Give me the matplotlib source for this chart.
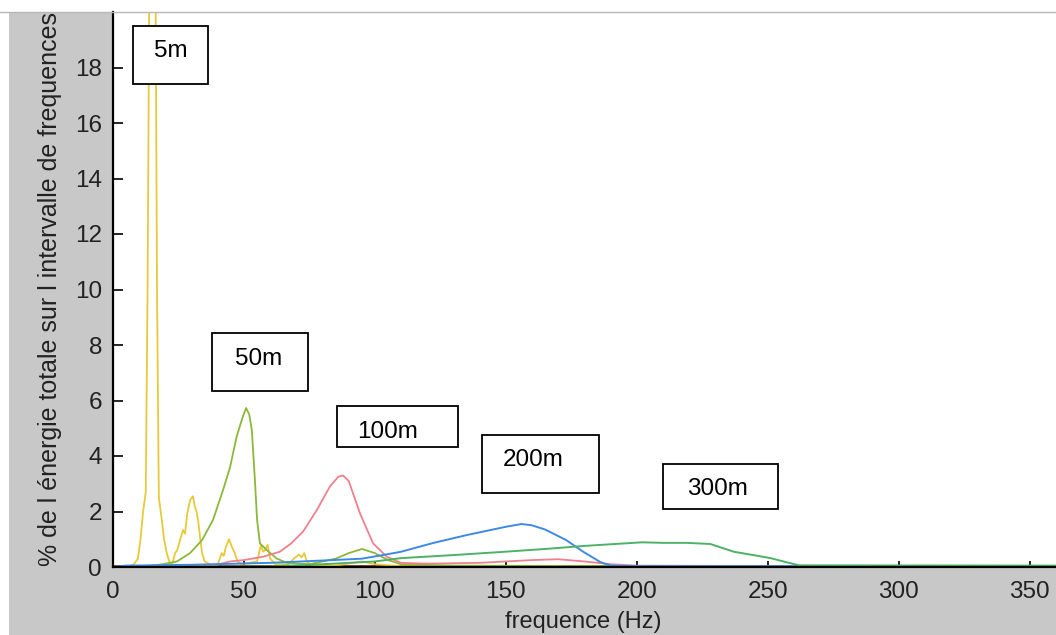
import numpy as np
import matplotlib
matplotlib.use("Agg")
import matplotlib.pyplot as plt
from matplotlib.patches import Rectangle
from matplotlib.lines import Line2D

plt.rcParams['font.family'] = ['Liberation Sans', 'DejaVu Sans']

# --- donnees (frequence en Hz, % energie) ---
f_5m = [0, 5, 8, 9.5, 10.5, 11.5, 12.5, 13.2, 13.8, 14.5, 15.5, 16.3, 16.8, 17.5, 18.5,
        19.5, 20.5, 21.5, 22.5, 23.7, 24.5, 25.6, 26.7, 27.5, 28.3, 29.4, 30.5, 31.2, 32,
        32.6, 33.2, 34, 35, 38, 40, 41.5, 42.3, 43, 44.3, 45.5, 46.5, 47.5, 49, 52, 55,
        56.5, 57.3, 58, 59, 60, 62, 65, 67, 69, 71, 72, 73, 74, 76, 85, 95, 100, 110, 150]
e_5m = [0, 0, 0.1, 0.3, 1.0, 2.0, 2.7, 10, 20, 24, 24, 20, 10, 2.5, 1.8,
        1.0, 0.5, 0.2, 0.05, 0.5, 0.6, 0.97, 1.33, 1.2, 1.9, 2.4, 2.55, 2.2, 1.95,
        1.6, 1.1, 0.5, 0.2, 0.05, 0.1, 0.5, 0.4, 0.7, 1.0, 0.7, 0.5, 0.2, 0.1, 0.15, 0.2,
        0.8, 0.55, 0.6, 0.8, 0.3, 0.1, 0.1, 0.1, 0.3, 0.45, 0.35, 0.5, 0.2, 0.05, 0.05, 0.2, 0.1, 0.03, 0.02]

f_50m = [0, 10, 19, 24.4, 29.4, 34, 38.2, 42, 44.7, 47.2, 49.5, 50.8, 52, 53, 54.2, 55,
         56.1, 58.8, 62.6, 66.4, 75, 85, 90, 95, 100, 105, 110, 130, 200, 360]
e_50m = [0, 0, 0.1, 0.2, 0.5, 0.97, 1.7, 2.77, 3.6, 4.7, 5.4, 5.73, 5.5, 4.94, 3.1, 1.7,
         0.85, 0.6, 0.3, 0.15, 0.1, 0.3, 0.5, 0.65, 0.5, 0.25, 0.1, 0.05, 0.03, 0.02]

f_100m = [0, 30, 38, 44.7, 50, 57.3, 63.7, 68, 72.5, 77.8, 82.8, 86, 87.8, 90, 94.3, 99.3,
          104.5, 110, 120, 140, 150, 160, 170, 180, 190, 200, 260, 360]
e_100m = [0, 0.02, 0.05, 0.2, 0.25, 0.37, 0.55, 0.85, 1.27, 2.05, 2.9, 3.25, 3.3, 3.1, 1.93, 0.85,
          0.37, 0.15, 0.12, 0.15, 0.2, 0.25, 0.28, 0.2, 0.1, 0.05, 0.03, 0.02]

f_200m = [0, 5, 30, 60, 84, 95, 103, 110, 122, 135, 145, 150, 156, 160, 165, 173, 179.5,
          186, 190, 200, 260, 360]
e_200m = [0, 0.05, 0.08, 0.15, 0.25, 0.3, 0.43, 0.55, 0.86, 1.15, 1.35, 1.45, 1.55, 1.5, 1.35, 0.97, 0.55,
          0.18, 0.05, 0.03, 0.03, 0.03]

f_300m = [0, 60, 80, 100, 110, 130, 148, 165, 180, 202, 210, 219, 228, 237, 245, 251, 258, 262, 360]
e_300m = [0, 0.02, 0.1, 0.2, 0.32, 0.43, 0.54, 0.65, 0.76, 0.89, 0.87, 0.87, 0.83, 0.55, 0.42, 0.32, 0.15, 0.06, 0.05]

# autres distances, quasi nulles
f_bas = [0, 360]
e_rouge = [0.02, 0.02]
e_marine = [0.01, 0.01]
e_vertfonce = [0.0, 0.0]

couleurs = {'5m': '#e8c93a', '50m': '#8bb83a', '100m': '#f0808c',
            '200m': '#3d8ae6', '300m': '#4db265'}

# etiquettes : texte, position du texte, cadre (x0, x1, y0, y1)
etiquettes = [
    ('5m', 22, 18.6, (7.6, 36.3, 17.4, 19.5)),
    ('50m', 55.5, 7.5, (37.8, 74.5, 6.35, 8.45)),
    ('100m', 105, 4.85, (85.5, 131.7, 4.32, 5.8)),
    ('200m', 160.4, 3.86, (140.9, 185.6, 2.67, 4.76)),
    ('300m', 230.6, 2.8, (210, 253.9, 2.09, 3.71)),
]

W, H = 1056, 635
fig = plt.figure(figsize=(W / 100, H / 100), dpi=100)
fig.patch.set_facecolor('white')
fig.add_artist(Rectangle((9 / W, 0), 1 - 9 / W, (H - 12) / H, transform=fig.transFigure,
                         facecolor='#c8c8c8', edgecolor='none', zorder=-10))
fig.add_artist(Line2D([0, 1], [(H - 12) / H] * 2, transform=fig.transFigure,
                      color='#b8b8b8', lw=1))

ax = fig.add_axes([113 / W, (H - 567) / H, (W - 113) / W, (567 - 12) / H])
ax.set_facecolor('white')

ax.plot(f_bas, e_rouge, color='#9b3030', lw=1.3)
ax.plot(f_bas, e_marine, color='#1f4e9c', lw=1.3)
ax.plot(f_bas, e_vertfonce, color='#1d5e2a', lw=1.6)
ax.plot(f_5m, e_5m, color=couleurs['5m'], lw=1.3)
ax.plot(f_50m, e_50m, color=couleurs['50m'], lw=1.3)
ax.plot(f_100m, e_100m, color=couleurs['100m'], lw=1.3)
ax.plot(f_200m, e_200m, color=couleurs['200m'], lw=1.4)
ax.plot(f_300m, e_300m, color=couleurs['300m'], lw=1.4)

for txt, tx, ty, (x0, x1, y0, y1) in etiquettes:
    ax.add_patch(Rectangle((x0, y0), x1 - x0, y1 - y0, facecolor='white',
                           edgecolor='black', lw=1.3, zorder=5))
    ax.text(tx, ty, txt, ha='center', va='center', fontsize=17.5, zorder=6)

ax.set_xlim(0, 360)
ax.set_ylim(0, 20)
ax.set_xticks(np.arange(0, 351, 50))
ax.set_yticks(np.arange(0, 19, 2))
ax.spines['top'].set_visible(False)
ax.spines['right'].set_visible(False)
for s in ['left', 'bottom']:
    ax.spines[s].set_linewidth(1.6)
ax.tick_params(axis='y', direction='in', length=7, width=1.2, labelsize=17.5, pad=8,
               labelcolor='#222222')
ax.tick_params(axis='x', direction='in', length=4, width=1.2, labelsize=17.5, pad=10,
               labelcolor='#222222')

fig.text(50 / W, 1 - 289 / H, "% de l énergie totale sur l intervalle de frequences",
         rotation=90, ha='center', va='center', fontsize=18, color='#222222')
fig.text(583 / W, 1 - 622 / H, "frequence (Hz)", ha='center', va='center',
         fontsize=17, color='#222222')

fig.savefig('out.png', dpi=100)
